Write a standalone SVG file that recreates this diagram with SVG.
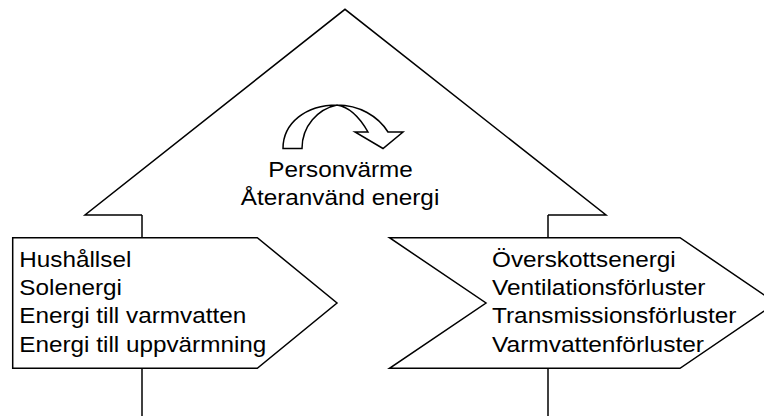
<svg xmlns="http://www.w3.org/2000/svg" width="764" height="416" viewBox="0 0 764 416">
  <style>
    .shape { fill: #ffffff; stroke: #000000; stroke-width: 1.5; stroke-linejoin: miter; }
    .line { fill: none; stroke: #000000; stroke-width: 1.5; }
    .txt { font-family: "Liberation Sans", Arial, sans-serif; font-size: 22px; fill: #000000; }
    .mid { text-anchor: middle; }
  </style>
  <rect x="0" y="0" width="764" height="416" fill="#ffffff"/>

  <g id="roof">
    <polyline class="line" points="142,215 85,215 345,9.3 606,215 548,215"/>
  </g>

  <g id="recycle-arrow">
    <path class="shape" stroke-width="1.3" d="M283,148.5 C283,123 306,105 337,105 C359,105 378,116 388,132 L403,132 L383,148.5 L355,132 L368,132 C360,118 350,107 337,105 C318,109 302,126 302,148.5 Z"/>
  </g>

  <g id="title">
    <text class="txt mid" x="340.5" y="176.5" textLength="144.5" lengthAdjust="spacingAndGlyphs">Personvärme</text>
    <text class="txt mid" x="340" y="204.8" textLength="198.6" lengthAdjust="spacingAndGlyphs">Återanvänd energi</text>
  </g>

  <g id="connectors">
    <line class="line" x1="142" y1="215" x2="142" y2="237.7"/>
    <line class="line" x1="548" y1="215" x2="548" y2="237.7"/>
    <line class="line" x1="142" y1="368.3" x2="142" y2="416"/>
    <line class="line" x1="548" y1="368.3" x2="548" y2="416"/>
  </g>

  <g id="gains">
    <path class="shape" d="M12.7,237.7 L257.3,237.7 L337,303 L257.3,368.3 L12.7,368.3 Z"/>
    <text class="txt" x="19.3" y="266.8" textLength="112" lengthAdjust="spacingAndGlyphs">Hushållsel</text>
    <text class="txt" x="19.3" y="295.1" textLength="102.6" lengthAdjust="spacingAndGlyphs">Solenergi</text>
    <text class="txt" x="19.3" y="323.4" textLength="226.9" lengthAdjust="spacingAndGlyphs">Energi till varmvatten</text>
    <text class="txt" x="19.3" y="351.7" textLength="247" lengthAdjust="spacingAndGlyphs">Energi till uppvärmning</text>
  </g>

  <g id="losses">
    <path class="shape" d="M389.5,237.7 L680,237.7 L776,303 L680,368.3 L389.5,368.3 L486,303 Z"/>
    <text class="txt" x="492" y="266.8" textLength="183.7" lengthAdjust="spacingAndGlyphs">Överskottsenergi</text>
    <text class="txt" x="492" y="295.1" textLength="213.4" lengthAdjust="spacingAndGlyphs">Ventilationsförluster</text>
    <text class="txt" x="492" y="323.4" textLength="244.4" lengthAdjust="spacingAndGlyphs">Transmissionsförluster</text>
    <text class="txt" x="492" y="351.7" textLength="212" lengthAdjust="spacingAndGlyphs">Varmvattenförluster</text>
  </g>
</svg>
